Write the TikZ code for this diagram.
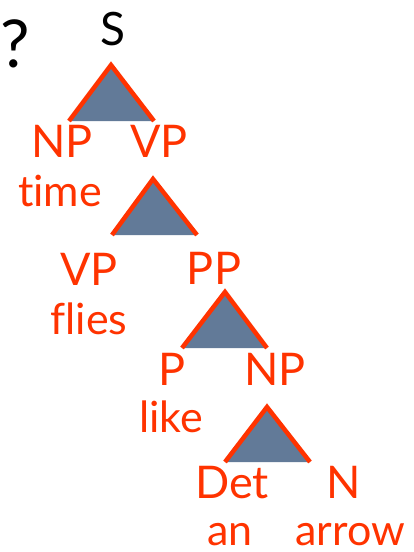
\documentclass[tikz,border=0pt]{standalone}
\usepackage{fontspec}
\setmainfont{Lato}[Ligatures=NoCommon]
\definecolor{treered}{HTML}{FF3300}
\definecolor{slate}{HTML}{627A98}
\begin{document}
\begin{tikzpicture}[x=1pt,y=-1pt,
  cat/.style={text=treered,font=\fontsize{45}{45}\selectfont,anchor=base,inner sep=0pt},
  word/.style={text=treered,font=\fontsize{43}{43}\selectfont,anchor=base,inner sep=0pt,text depth=0pt},
  wedge/.style={fill=slate},
  wedgeside/.style={draw=treered,line width=4.5pt,line join=miter}]
\useasboundingbox (0,0) rectangle (413,552);

% a triangle: apex, left corner, right corner
\newcommand{\subtree}[4]{%
  \coordinate (#1-t) at #2;
  \coordinate (#1-l) at #3;
  \coordinate (#1-r) at #4;
  \fill[wedge] (#1-t) -- (#1-l) -- (#1-r) -- cycle;
  \draw[wedgeside] (#1-l) -- (#1-t) -- (#1-r);}

\subtree{s}{(111,65)}{(69,121)}{(154,121)}
\subtree{vp}{(153,179)}{(112,235)}{(197,235)}
\subtree{pp}{(225,292)}{(182,348)}{(267,348)}
\subtree{np}{(267,407)}{(225,462)}{(310,462)}

\node[anchor=base,inner sep=0pt,font=\fontsize{66}{66}\selectfont] (q) at (15,67) {?};
\node[anchor=base,inner sep=0pt,font=\fontsize{46}{46}\selectfont] (S) at (113,45) {S};

\node[cat] (np1) at (62,157) {NP};
\node[cat] (vp1) at (159,157) {VP};
\node[word] (time) at (60,206) {time};

\node[cat] (vp2) at (89,285) {VP};
\node[cat] (pp) at (214,284) {PP};
\node[word] (flies) at (89,334) {flies};

\node[cat] (p) at (172,385) {P};
\node[cat] (np2) at (275,385) {NP};
\node[word] (like) at (171,432) {like};

\node[cat] (det) at (232,498) {Det};
\node[cat] (n) at (344,498) {N};
\node[word] (an) at (230,545) {an};
\node[word] (arrow) at (350,545) {arrow};
\end{tikzpicture}
\end{document}
